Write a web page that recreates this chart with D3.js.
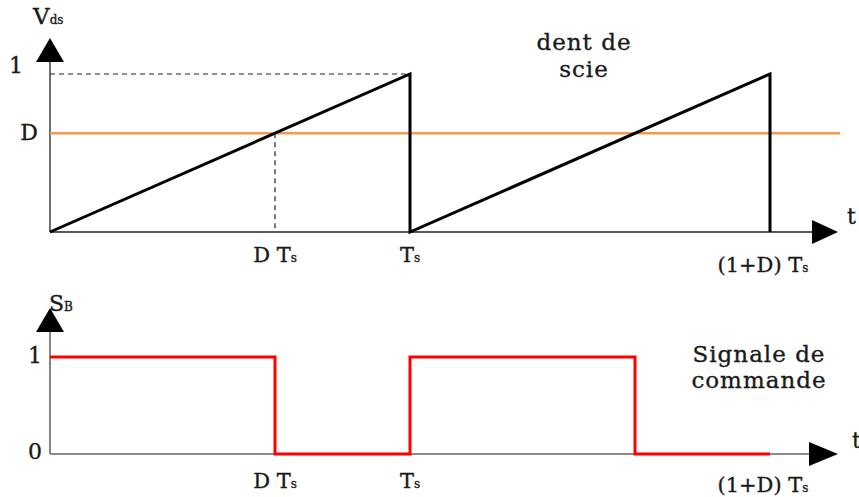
<!DOCTYPE html>
<html>
<head>
<meta charset="utf-8">
<script src="https://cdn.jsdelivr.net/npm/d3@7"></script>
<style>
  body { margin: 0; background: #fff; }
  text { font-family: 'DejaVu Serif', serif; fill: #1a1a1a; stroke: #1a1a1a; stroke-width: 0.35px; }
</style>
</head>
<body>
<div id="chart"></div>
<script>
// duty cycle
const D = 0.625;

// sawtooth (top), time in units of Ts
const sawT = [0, 1, 1, 2, 2];
const sawV = [0, 1, 0, 1, 0];

// command signal (bottom)
const cmdT = [0, D, D, 1, 1, 1 + D, 1 + D, 2];
const cmdV = [1, 1, 0, 0, 1, 1, 0, 0];

// x tick positions and labels
const tickT = [D, 1, 2];
const tickMain = ['D T', 'T', '(1+D) T'];

const width = 859;
const height = 497;

const xScale = d3.scaleLinear().domain([0, 1]).range([50, 410]);
const yTop = d3.scaleLinear().domain([0, 1]).range([232, 74]);
const yBot = d3.scaleLinear().domain([0, 1]).range([454, 357]);

const svg = d3.select('#chart').append('svg')
    .attr('width', width)
    .attr('height', height);

const x0 = xScale(0);
const xEnd = 838;

// ---------- top panel ----------
const topG = svg.append('g');

// dashed guides
topG.append('line')
    .attr('x1', x0).attr('x2', xScale(1))
    .attr('y1', yTop(1)).attr('y2', yTop(1))
    .attr('stroke', '#222').attr('stroke-width', 1.2)
    .attr('stroke-dasharray', '5,4');
topG.append('line')
    .attr('x1', xScale(D)).attr('x2', xScale(D))
    .attr('y1', yTop(D)).attr('y2', yTop(0))
    .attr('stroke', '#222').attr('stroke-width', 1.2)
    .attr('stroke-dasharray', '5,4');

// axes
topG.append('line')
    .attr('x1', x0).attr('x2', x0)
    .attr('y1', yTop(0)).attr('y2', 50)
    .attr('stroke', '#222').attr('stroke-width', 1.3);
topG.append('line')
    .attr('x1', x0).attr('x2', xEnd - 10)
    .attr('y1', yTop(0)).attr('y2', yTop(0))
    .attr('stroke', '#222').attr('stroke-width', 1.3);
topG.append('path')
    .attr('d', `M${x0},38 L${x0 + 14},62 L${x0 - 14},62 Z`)
    .attr('fill', '#000');
topG.append('path')
    .attr('d', `M${xEnd},${yTop(0)} L${xEnd - 26},${yTop(0) - 12} L${xEnd - 26},${yTop(0) + 12} Z`)
    .attr('fill', '#000');

// orange D level
topG.append('line')
    .attr('x1', x0).attr('x2', 840)
    .attr('y1', yTop(D)).attr('y2', yTop(D))
    .attr('stroke', '#f39a4d').attr('stroke-width', 2.5);

// sawtooth
const sawData = sawT.map((t, i) => ({t: t, v: sawV[i]}));
topG.append('path')
    .datum(sawData)
    .attr('d', d3.line().x(d => xScale(d.t)).y(d => yTop(d.v)))
    .attr('fill', 'none')
    .attr('stroke', '#000')
    .attr('stroke-width', 3)
    .attr('stroke-linejoin', 'miter');

// ---------- bottom panel ----------
const botG = svg.append('g');

botG.append('line')
    .attr('x1', x0).attr('x2', x0)
    .attr('y1', yBot(0)).attr('y2', 320)
    .attr('stroke', '#444').attr('stroke-width', 1.3);
botG.append('line')
    .attr('x1', x0).attr('x2', xEnd - 10)
    .attr('y1', yBot(0)).attr('y2', yBot(0))
    .attr('stroke', '#666').attr('stroke-width', 1.3);
botG.append('path')
    .attr('d', `M${x0},308 L${x0 + 14},332 L${x0 - 14},332 Z`)
    .attr('fill', '#000');
botG.append('path')
    .attr('d', `M${xEnd},${yBot(0)} L${xEnd - 29},${yBot(0) - 12} L${xEnd - 29},${yBot(0) + 12} Z`)
    .attr('fill', '#000');

const cmdData = cmdT.map((t, i) => ({t: t, v: cmdV[i]}));
botG.append('path')
    .datum(cmdData)
    .attr('d', d3.line().x(d => xScale(d.t)).y(d => yBot(d.v)))
    .attr('fill', 'none')
    .attr('stroke', '#ff0000')
    .attr('stroke-width', 3);

// ---------- labels ----------
function subLabel(parent, x, y, main, sub, size, subSize, anchor) {
    const t = parent.append('text')
        .attr('x', x).attr('y', y)
        .attr('text-anchor', anchor || 'middle')
        .style('font-size', size + 'px');
    t.append('tspan').text(main);
    t.append('tspan').style('font-size', subSize + 'px').text(sub);
    return t;
}

// x tick labels, both panels
[[yTop(0) + 30, yTop(0) + 40], [yBot(0) + 34, yBot(0) + 38]].forEach(([yA, yB]) => {
    tickT.forEach((t, i) => {
        const yy = i === 2 ? yB : yA;
        subLabel(svg, xScale(t) + (i === 2 ? -7 : 0), yy, tickMain[i], 's', 21, 12);
    });
});

// y labels
svg.append('text').attr('x', 23).attr('y', 73).attr('text-anchor', 'end')
    .style('font-size', '22px').text('1');
svg.append('text').attr('x', 38).attr('y', yTop(D) + 7).attr('text-anchor', 'end')
    .style('font-size', '22px').text('D');
svg.append('text').attr('x', 42).attr('y', yBot(1) + 6).attr('text-anchor', 'end')
    .style('font-size', '22px').text('1');
svg.append('text').attr('x', 42).attr('y', yBot(0) + 5).attr('text-anchor', 'end')
    .style('font-size', '22px').text('0');

subLabel(svg, 33, 24, 'V', 'ds', 23, 12, 'start');
subLabel(svg, 49, 311, 'S', 'B', 22, 12, 'start');

svg.append('text').attr('x', 847).attr('y', 224).style('font-size', '22px').text('t');
svg.append('text').attr('x', 852).attr('y', 448).style('font-size', '22px').text('t');

// captions
const cap1 = svg.append('text').attr('text-anchor', 'middle').style('font-size', '23px')
    .style('letter-spacing', '1px');
cap1.append('tspan').attr('x', 584).attr('y', 50).text('dent de');
cap1.append('tspan').attr('x', 584).attr('y', 77).text('scie');

const cap2 = svg.append('text').attr('text-anchor', 'middle').style('font-size', '23px')
    .style('letter-spacing', '1px');
cap2.append('tspan').attr('x', 759).attr('y', 362).text('Signale de');
cap2.append('tspan').attr('x', 759).attr('y', 388).text('commande');
</script>
</body>
</html>
